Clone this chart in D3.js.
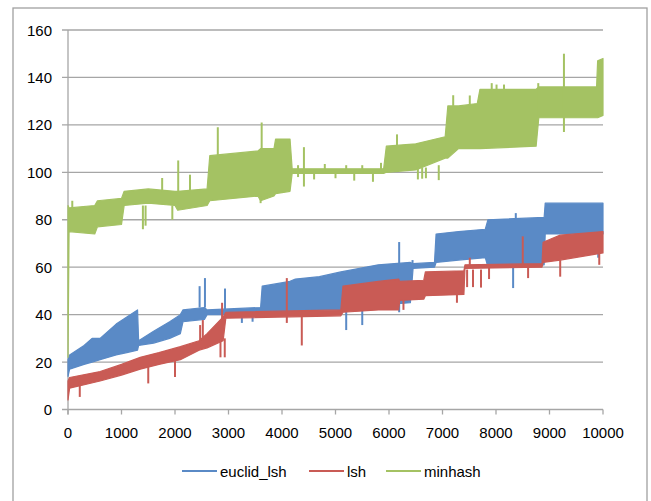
<!DOCTYPE html>
<html>
<head>
<meta charset="utf-8">
<script src="https://cdn.jsdelivr.net/npm/d3@7"></script>
<style>
  body { margin: 0; background: #fff; }
  svg { display: block; font-family: "Liberation Sans", Arial, sans-serif; }
</style>
</head>
<body>
<svg id="chart" width="651" height="501"></svg>
<script>
// Axis ticks
const xTicks = [0, 1000, 2000, 3000, 4000, 5000, 6000, 7000, 8000, 9000, 10000];
const yTicks = [0, 20, 40, 60, 80, 100, 120, 140, 160];
const seriesNames = ['euclid_lsh', 'lsh', 'minhash'];
const seriesColors = ['#5A8AC6', '#C95B55', '#A4C263'];

// Each series is a dense noisy line: read as a band [x, low, high]
// plus single spikes [x, from, to] that stick out of the band
const euclidBand = [
    [0, 14, 21], [30, 17, 23], [300, 19, 27], [450, 20, 30], [600, 21, 30], [900, 23, 36],
    [1100, 24, 39], [1300, 25, 42], [1320, 27, 29], [1600, 28, 33], [1900, 30, 37],
    [2100, 32, 40], [2150, 37, 42], [2550, 38, 43], [2600, 40, 42], [3600, 40, 43],
    [3630, 41, 52], [4150, 41, 54], [4250, 41, 55], [4700, 42, 56], [5100, 42, 58],
    [5800, 44, 61], [6400, 45, 62], [6450, 59.5, 61.5], [6850, 60, 62], [6880, 62, 74],
    [7300, 63, 75], [7800, 64, 76], [7850, 60, 80], [8900, 61, 81], [8920, 74, 87],
    [10000, 74, 87]
];
const euclidSpikes = [
    [2460, 43, 52], [2560, 43, 55.4], [2935, 42, 51], [3250, 40, 36.5], [3450, 40, 37],
    [5200, 42, 33.5], [5500, 42, 35.6], [6190, 41, 70.6], [6280, 60, 54.6], [6440, 60, 63],
    [8320, 60, 51.2], [8370, 80, 82.8], [9910, 74, 64]
];

const lshBand = [
    [0, 4, 12], [30, 9, 13.5], [600, 12, 16], [1000, 14.5, 19], [1350, 17, 22], [1700, 19, 24],
    [2100, 21, 26.5], [2450, 25, 29], [2600, 26, 32], [2900, 29, 39], [2950, 38.5, 41],
    [5100, 39.5, 42], [5140, 41, 52], [5800, 42, 54], [6180, 42, 55], [6200, 46, 54],
    [6650, 46.5, 54.5], [6680, 48, 58], [7400, 48.5, 58.5], [7420, 59.5, 61], [8860, 60, 61.5],
    [8880, 62, 70.5], [9200, 63, 73.5], [10000, 66, 75]
];
const lshSpikes = [
    [220, 12, 5.3], [1500, 18, 11], [2000, 21, 13.7], [2470, 29, 35.6], [2520, 29, 37.7],
    [2850, 30, 22], [2880, 38, 45], [2930, 30, 22], [4090, 36.5, 55.4], [4370, 40, 27],
    [6270, 46, 42], [7270, 48.5, 45], [7460, 59, 51.6], [7510, 61, 64], [7570, 59, 51.6],
    [7720, 59, 51.4], [7870, 60, 55], [8500, 61, 73], [8600, 60, 55.4], [9200, 63, 56],
    [9930, 66, 61]
];

const minhashBand = [
    [0, 22, 86], [20, 75, 85], [500, 74, 86], [550, 77, 88], [1000, 78, 89],
    [1050, 86, 92], [1500, 87, 93], [2000, 86, 92], [2050, 84, 92], [2600, 86, 93],
    [2650, 88, 107], [3550, 90, 109], [3600, 88, 110], [3850, 90, 110], [3880, 91, 114],
    [4150, 92, 114], [4190, 99.5, 101.5], [5900, 99.5, 101.5], [5950, 100, 111], [6500, 101, 112],
    [7050, 106, 115], [7100, 106, 128], [7300, 110, 128], [7650, 110, 129], [7700, 110, 135],
    [8750, 111, 135], [8800, 123, 136], [9880, 123, 136], [9900, 123, 147], [10000, 124, 148]
];
const minhashSpikes = [
    [80, 85, 88], [1400, 86, 76], [1450, 86, 77.5], [1760, 92, 97.6], [1950, 86, 80],
    [2060, 92, 105], [2280, 92, 99], [2800, 107, 119], [3600, 90, 87], [3620, 110, 121],
    [4300, 98, 103], [4410, 94, 110.6], [4600, 97, 101], [4800, 100, 103.5], [5000, 97.5, 100],
    [5200, 100, 103], [5350, 96.5, 100], [5500, 100, 103], [5700, 96, 100], [5850, 100, 104],
    [6150, 110, 116], [6540, 102, 97], [6620, 102, 97.3], [6690, 102, 97.5], [6930, 103, 96.7],
    [7200, 128, 132.5], [7510, 128, 132.4], [7920, 135, 137.6], [8010, 135, 137], [8150, 135, 137],
    [8790, 123, 137.6], [9270, 117, 150]
];

const svg = d3.select('#chart');

// outer chart frame
svg.append('rect')
    .attr('x', 13).attr('y', 8)
    .attr('width', 634).attr('height', 520)
    .attr('fill', 'none')
    .attr('stroke', '#a0a0a0')
    .attr('stroke-width', 1.3);

const xScale = d3.scaleLinear().domain([0, 10000]).range([68, 603]);
const yScale = d3.scaleLinear().domain([0, 160]).range([409.5, 30]);

// horizontal gridlines + y labels
yTicks.forEach(t => {
    svg.append('line')
        .attr('x1', 62).attr('x2', xScale(10000))
        .attr('y1', yScale(t)).attr('y2', yScale(t))
        .attr('stroke', '#a6a6a6').attr('stroke-width', 1.3);
    svg.append('text')
        .attr('x', 52).attr('y', yScale(t) + 5.5)
        .attr('text-anchor', 'end')
        .attr('font-size', 15).attr('fill', '#000')
        .text(t);
});

// y axis line
svg.append('line')
    .attr('x1', xScale(0)).attr('x2', xScale(0))
    .attr('y1', yScale(160)).attr('y2', yScale(0) + 5)
    .attr('stroke', '#a6a6a6').attr('stroke-width', 1.3);

// x ticks + labels
xTicks.forEach(t => {
    svg.append('line')
        .attr('x1', xScale(t)).attr('x2', xScale(t))
        .attr('y1', yScale(0)).attr('y2', yScale(0) + 5)
        .attr('stroke', '#a6a6a6').attr('stroke-width', 1.3);
    svg.append('text')
        .attr('x', xScale(t)).attr('y', 438)
        .attr('text-anchor', 'middle')
        .attr('font-size', 15).attr('fill', '#000')
        .text(t);
});

const area = d3.area()
    .x(d => xScale(d[0]))
    .y0(d => yScale(d[1]))
    .y1(d => yScale(d[2]));

const bands = [euclidBand, lshBand, minhashBand];
const spikes = [euclidSpikes, lshSpikes, minhashSpikes];

// draw order: euclid_lsh, lsh, minhash (last on top)
bands.forEach((band, i) => {
    const g = svg.append('g');
    g.append('path')
        .attr('d', area(band))
        .attr('fill', seriesColors[i])
        .attr('stroke', seriesColors[i])
        .attr('stroke-width', 1.2)
        .attr('stroke-linejoin', 'round');
    g.selectAll('line.spike')
        .data(spikes[i])
        .join('line')
        .attr('class', 'spike')
        .attr('x1', d => xScale(d[0])).attr('x2', d => xScale(d[0]))
        .attr('y1', d => yScale(d[1])).attr('y2', d => yScale(d[2]))
        .attr('stroke', seriesColors[i])
        .attr('stroke-width', 2);
});

// legend
const legendX = [182, 309, 386];
seriesNames.forEach((name, i) => {
    svg.append('line')
        .attr('x1', legendX[i]).attr('x2', legendX[i] + 35)
        .attr('y1', 471).attr('y2', 471)
        .attr('stroke', seriesColors[i]).attr('stroke-width', 2);
    svg.append('text')
        .attr('x', legendX[i] + 38).attr('y', 476.5)
        .attr('font-size', 15).attr('fill', '#000')
        .text(name);
});
</script>
</body>
</html>
